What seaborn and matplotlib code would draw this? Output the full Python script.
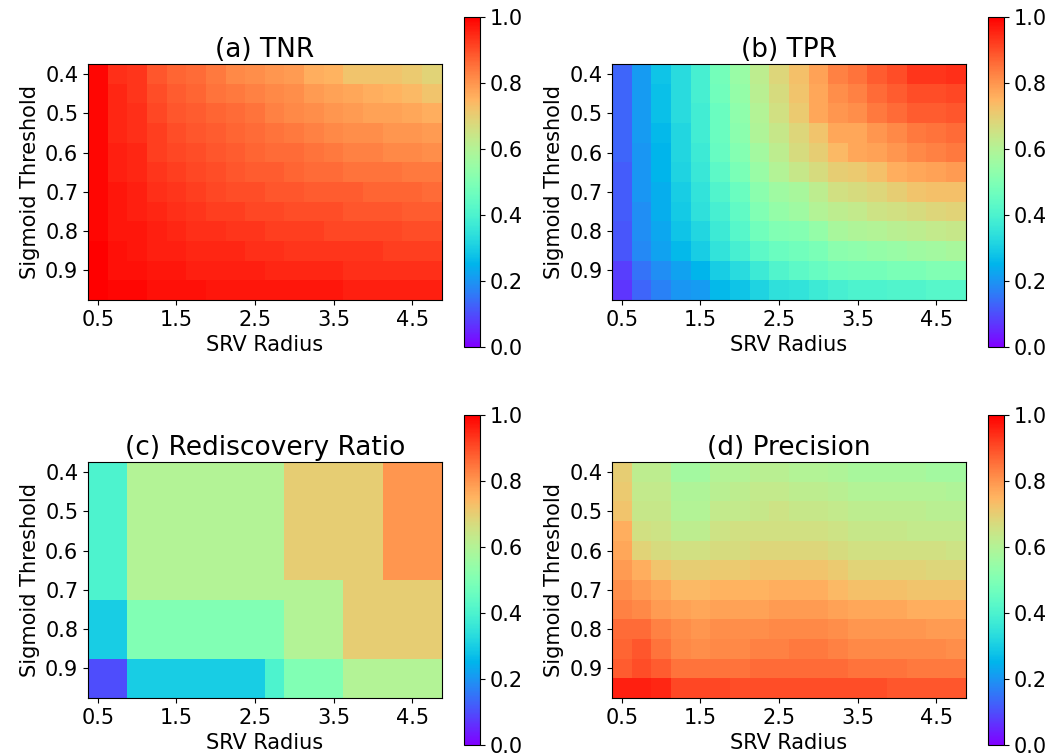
import numpy as np
import matplotlib
matplotlib.use("Agg")
import matplotlib.pyplot as plt
import seaborn as sns

# =========================================================
# DATA
# =========================================================

srv_radius = [0.5, 0.75, 1.0, 1.25, 1.5, 1.75, 2.0, 2.25, 2.5,
              2.75, 3.0, 3.25, 3.5, 3.75, 4.0, 4.25, 4.5, 4.75]

sigmoid_threshold = [0.4, 0.45, 0.5, 0.55, 0.6, 0.65,
                     0.7, 0.75, 0.8, 0.85, 0.9, 0.95]

x_tick_labels = ["0.5", "1.5", "2.5", "3.5", "4.5"]
y_tick_labels = ["0.4", "0.5", "0.6", "0.7", "0.8", "0.9"]

tnr_values = [
    [0.99, 0.94, 0.93, 0.89, 0.87, 0.86, 0.84, 0.82, 0.81, 0.80, 0.79, 0.76, 0.75, 0.72, 0.72, 0.72, 0.71, 0.69],
    [0.99, 0.95, 0.93, 0.90, 0.88, 0.87, 0.85, 0.84, 0.83, 0.82, 0.81, 0.79, 0.78, 0.77, 0.76, 0.75, 0.74, 0.72],
    [0.99, 0.95, 0.94, 0.91, 0.89, 0.88, 0.87, 0.86, 0.85, 0.83, 0.82, 0.81, 0.80, 0.79, 0.78, 0.78, 0.77, 0.76],
    [0.99, 0.95, 0.94, 0.92, 0.90, 0.89, 0.88, 0.87, 0.86, 0.85, 0.84, 0.83, 0.82, 0.81, 0.81, 0.80, 0.80, 0.79],
    [0.99, 0.96, 0.95, 0.92, 0.91, 0.90, 0.89, 0.88, 0.87, 0.86, 0.86, 0.85, 0.84, 0.83, 0.83, 0.82, 0.82, 0.81],
    [0.99, 0.96, 0.95, 0.93, 0.92, 0.91, 0.90, 0.89, 0.88, 0.88, 0.87, 0.86, 0.86, 0.85, 0.85, 0.85, 0.84, 0.84],
    [0.99, 0.97, 0.96, 0.94, 0.93, 0.92, 0.91, 0.90, 0.90, 0.89, 0.89, 0.88, 0.88, 0.88, 0.87, 0.87, 0.87, 0.86],
    [0.99, 0.97, 0.96, 0.95, 0.94, 0.93, 0.92, 0.92, 0.91, 0.91, 0.90, 0.90, 0.90, 0.89, 0.89, 0.89, 0.88, 0.88],
    [0.99, 0.97, 0.97, 0.96, 0.95, 0.94, 0.94, 0.93, 0.93, 0.92, 0.92, 0.92, 0.91, 0.91, 0.91, 0.91, 0.90, 0.90],
    [1.00, 0.98, 0.97, 0.96, 0.96, 0.95, 0.95, 0.95, 0.94, 0.94, 0.93, 0.93, 0.93, 0.93, 0.93, 0.92, 0.92, 0.92],
    [1.00, 0.98, 0.98, 0.97, 0.97, 0.96, 0.96, 0.96, 0.96, 0.95, 0.95, 0.95, 0.95, 0.94, 0.94, 0.94, 0.94, 0.94],
    [1.00, 0.99, 0.99, 0.98, 0.98, 0.98, 0.97, 0.97, 0.97, 0.97, 0.97, 0.97, 0.97, 0.96, 0.96, 0.96, 0.96, 0.96],
]

tpr_values = [
    [0.13, 0.21, 0.28, 0.33, 0.39, 0.48, 0.55, 0.62, 0.68, 0.73, 0.78, 0.83, 0.85, 0.88, 0.90, 0.93, 0.93, 0.94],
    [0.13, 0.21, 0.27, 0.33, 0.39, 0.47, 0.54, 0.61, 0.67, 0.72, 0.77, 0.81, 0.83, 0.86, 0.88, 0.90, 0.90, 0.91],
    [0.13, 0.21, 0.27, 0.33, 0.38, 0.46, 0.53, 0.60, 0.66, 0.71, 0.77, 0.80, 0.81, 0.84, 0.86, 0.88, 0.88, 0.89],
    [0.13, 0.21, 0.26, 0.32, 0.38, 0.46, 0.52, 0.59, 0.64, 0.68, 0.72, 0.77, 0.77, 0.80, 0.82, 0.84, 0.85, 0.86],
    [0.13, 0.20, 0.25, 0.32, 0.37, 0.45, 0.51, 0.57, 0.62, 0.67, 0.70, 0.74, 0.77, 0.78, 0.80, 0.82, 0.83, 0.84],
    [0.12, 0.20, 0.25, 0.31, 0.36, 0.43, 0.49, 0.55, 0.60, 0.64, 0.67, 0.70, 0.71, 0.73, 0.76, 0.77, 0.78, 0.79],
    [0.12, 0.20, 0.24, 0.30, 0.35, 0.41, 0.46, 0.52, 0.56, 0.58, 0.62, 0.66, 0.67, 0.68, 0.70, 0.72, 0.73, 0.73],
    [0.12, 0.19, 0.24, 0.29, 0.34, 0.39, 0.44, 0.50, 0.54, 0.56, 0.60, 0.62, 0.63, 0.65, 0.66, 0.67, 0.68, 0.69],
    [0.11, 0.19, 0.23, 0.28, 0.32, 0.37, 0.42, 0.47, 0.50, 0.51, 0.54, 0.58, 0.59, 0.60, 0.61, 0.62, 0.63, 0.64],
    [0.11, 0.18, 0.22, 0.26, 0.30, 0.35, 0.39, 0.43, 0.46, 0.47, 0.49, 0.52, 0.53, 0.54, 0.55, 0.56, 0.57, 0.58],
    [0.08, 0.15, 0.19, 0.22, 0.25, 0.30, 0.33, 0.37, 0.41, 0.43, 0.45, 0.47, 0.48, 0.48, 0.49, 0.49, 0.50, 0.50],
    [0.07, 0.13, 0.17, 0.20, 0.21, 0.26, 0.28, 0.31, 0.34, 0.35, 0.37, 0.39, 0.40, 0.40, 0.41, 0.41, 0.42, 0.42],
]

rediscovery_values = [
    [0.4, 0.4, 0.6, 0.6, 0.6, 0.6, 0.6, 0.6, 0.6, 0.6, 0.7, 0.7, 0.7, 0.7, 0.7, 0.8, 0.8, 0.8],
    [0.4, 0.4, 0.6, 0.6, 0.6, 0.6, 0.6, 0.6, 0.6, 0.6, 0.7, 0.7, 0.7, 0.7, 0.7, 0.8, 0.8, 0.8],
    [0.4, 0.4, 0.6, 0.6, 0.6, 0.6, 0.6, 0.6, 0.6, 0.6, 0.7, 0.7, 0.7, 0.7, 0.7, 0.8, 0.8, 0.8],
    [0.4, 0.4, 0.6, 0.6, 0.6, 0.6, 0.6, 0.6, 0.6, 0.6, 0.7, 0.7, 0.7, 0.7, 0.7, 0.8, 0.8, 0.8],
    [0.4, 0.4, 0.6, 0.6, 0.6, 0.6, 0.6, 0.6, 0.6, 0.6, 0.7, 0.7, 0.7, 0.7, 0.7, 0.8, 0.8, 0.8],
    [0.4, 0.4, 0.6, 0.6, 0.6, 0.6, 0.6, 0.6, 0.6, 0.6, 0.7, 0.7, 0.7, 0.7, 0.7, 0.8, 0.8, 0.8],
    [0.4, 0.4, 0.6, 0.6, 0.6, 0.6, 0.6, 0.6, 0.6, 0.6, 0.6, 0.6, 0.6, 0.7, 0.7, 0.7, 0.7, 0.7],
    [0.3, 0.3, 0.5, 0.5, 0.5, 0.5, 0.5, 0.5, 0.5, 0.5, 0.6, 0.6, 0.6, 0.7, 0.7, 0.7, 0.7, 0.7],
    [0.3, 0.3, 0.5, 0.5, 0.5, 0.5, 0.5, 0.5, 0.5, 0.5, 0.6, 0.6, 0.6, 0.7, 0.7, 0.7, 0.7, 0.7],
    [0.3, 0.3, 0.5, 0.5, 0.5, 0.5, 0.5, 0.5, 0.5, 0.5, 0.6, 0.6, 0.6, 0.7, 0.7, 0.7, 0.7, 0.7],
    [0.1, 0.1, 0.3, 0.3, 0.3, 0.3, 0.3, 0.3, 0.3, 0.4, 0.5, 0.5, 0.5, 0.6, 0.6, 0.6, 0.6, 0.6],
    [0.1, 0.1, 0.3, 0.3, 0.3, 0.3, 0.3, 0.3, 0.3, 0.4, 0.5, 0.5, 0.5, 0.6, 0.6, 0.6, 0.6, 0.6],
]

precision_values = [
    [0.70, 0.62, 0.62, 0.57, 0.57, 0.60, 0.60, 0.61, 0.61, 0.60, 0.60, 0.59, 0.58, 0.58, 0.58, 0.58, 0.57, 0.57],
    [0.71, 0.63, 0.63, 0.59, 0.59, 0.61, 0.62, 0.63, 0.63, 0.62, 0.62, 0.61, 0.60, 0.60, 0.60, 0.60, 0.60, 0.59],
    [0.72, 0.64, 0.64, 0.60, 0.60, 0.63, 0.63, 0.64, 0.65, 0.64, 0.64, 0.63, 0.62, 0.62, 0.62, 0.62, 0.61, 0.61],
    [0.76, 0.66, 0.65, 0.62, 0.62, 0.65, 0.66, 0.66, 0.66, 0.66, 0.66, 0.65, 0.64, 0.64, 0.64, 0.63, 0.63, 0.63],
    [0.77, 0.69, 0.67, 0.66, 0.66, 0.67, 0.67, 0.68, 0.68, 0.68, 0.68, 0.67, 0.66, 0.66, 0.66, 0.66, 0.66, 0.65],
    [0.79, 0.76, 0.72, 0.70, 0.70, 0.71, 0.71, 0.72, 0.72, 0.72, 0.72, 0.71, 0.69, 0.69, 0.69, 0.69, 0.68, 0.68],
    [0.81, 0.79, 0.77, 0.74, 0.74, 0.75, 0.75, 0.75, 0.76, 0.76, 0.76, 0.74, 0.73, 0.73, 0.73, 0.72, 0.72, 0.72],
    [0.83, 0.82, 0.79, 0.78, 0.77, 0.78, 0.78, 0.78, 0.79, 0.79, 0.79, 0.78, 0.77, 0.77, 0.77, 0.76, 0.76, 0.76],
    [0.86, 0.86, 0.83, 0.81, 0.80, 0.81, 0.81, 0.81, 0.82, 0.82, 0.82, 0.81, 0.80, 0.80, 0.80, 0.80, 0.79, 0.79],
    [0.87, 0.89, 0.85, 0.82, 0.81, 0.82, 0.82, 0.83, 0.83, 0.84, 0.84, 0.83, 0.82, 0.82, 0.82, 0.82, 0.82, 0.81],
    [0.88, 0.90, 0.88, 0.85, 0.85, 0.85, 0.85, 0.86, 0.86, 0.86, 0.86, 0.86, 0.85, 0.85, 0.85, 0.84, 0.84, 0.84],
    [0.96, 0.96, 0.95, 0.91, 0.91, 0.91, 0.90, 0.90, 0.90, 0.90, 0.90, 0.90, 0.90, 0.90, 0.89, 0.89, 0.89, 0.89],
]

panel_titles = ["(a) TNR", "(b) TPR", "(c) Rediscovery Ratio", "(d) Precision"]

# =========================================================
# FIGURE
# =========================================================

fig, axes = plt.subplots(2, 2, figsize=(10.61, 7.55), dpi=100)

plt.subplots_adjust(
    left=0.083,
    right=0.9934,
    top=0.9775,
    bottom=0.0132,
    wspace=0.186,
    hspace=0.206
)

panels = [tnr_values, tpr_values, rediscovery_values, precision_values]

for ax, values, title in zip(axes.flat, panels, panel_titles):

    sns.heatmap(
        np.array(values),
        cmap="rainbow",
        vmin=0,
        vmax=1,
        square=True,
        xticklabels=False,
        yticklabels=False,
        ax=ax
    )

    # frame around the heatmap
    for spine in ax.spines.values():
        spine.set_visible(True)
        spine.set_linewidth(0.8)

    # every 4th radius / every 2nd threshold gets a label
    ax.set_xticks(np.arange(0, len(srv_radius), 4) + 0.5)
    ax.set_xticklabels(x_tick_labels, rotation=0, fontsize=15)

    ax.set_yticks(np.arange(0, len(sigmoid_threshold), 2) + 0.5)
    ax.set_yticklabels(y_tick_labels, rotation=0, fontsize=15)

    ax.tick_params(length=3.5, width=0.8, pad=3.5)

    ax.set_xlabel("SRV Radius", fontsize=15, labelpad=4)
    ax.set_ylabel("Sigmoid Threshold", fontsize=15)
    ax.set_title(title, fontsize=19, pad=5)

    cbar = ax.collections[0].colorbar
    cbar.outline.set_linewidth(0.8)
    cbar.ax.tick_params(labelsize=15, length=3.5, width=0.8)

plt.savefig("out.png", dpi=100)
